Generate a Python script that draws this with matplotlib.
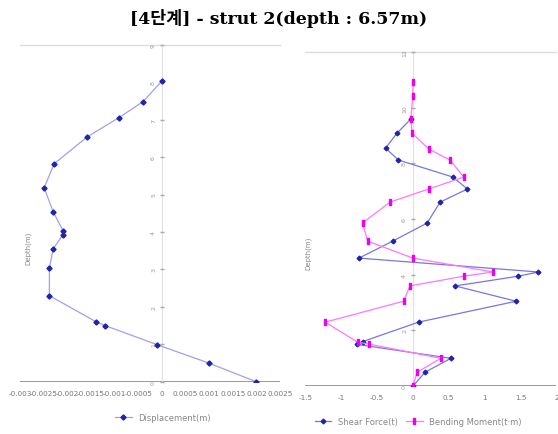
import numpy as np
import matplotlib.pyplot as plt
from matplotlib.path import Path

plt.rcParams['font.family'] = ['DejaVu Sans', 'Noto Sans CJK KR']

title = "[4단계] - strut 2(depth : 6.57m)"

# 변위 (left)
disp_depth = [8.03, 7.48, 7.05, 6.54, 5.82, 5.18, 4.54, 4.03, 3.93, 3.55, 3.04, 2.3, 1.6, 1.5, 0.99, 0.5, 0.0]
disp = [0.0, -0.0004, -0.00091, -0.00158, -0.00228, -0.00249, -0.0023, -0.00209, -0.00209,
        -0.0023, -0.00238, -0.00238, -0.00139, -0.0012, -0.0001, 0.00099, 0.002]

# 전단력 / 모멘트 (right)
sf_depth = [9.59, 9.09, 8.55, 8.12, 7.51, 7.08, 6.61, 5.86, 5.21, 4.6, 4.1, 3.95, 3.6, 3.05, 2.3, 1.6, 1.5, 1.0, 0.5, 0.0]
shear = [-0.03, -0.22, -0.38, -0.2, 0.56, 0.76, 0.38, 0.2, -0.28, -0.75, 1.75, 1.47, 0.59, 1.44, 0.08, -0.7, -0.78, 0.53, 0.17, 0.0]
bm_depth = [10.92, 10.42, 9.59, 9.09, 8.52, 8.12, 7.51, 7.08, 6.61, 5.86, 5.21, 4.6, 4.1, 3.95, 3.6, 3.05, 2.3, 1.58, 1.51, 1.0, 0.5, 0.0]
moment = [0.0, 0.0, -0.03, -0.01, 0.22, 0.52, 0.71, 0.22, -0.32, -0.7, -0.63, 0.0, 1.12, 0.71, -0.04, -0.13, -1.22, -0.77, -0.61, 0.39, 0.06, 0.0]

left_xticks = [-0.003, -0.0025, -0.002, -0.0015, -0.001, -0.0005, 0, 0.0005, 0.001, 0.0015, 0.002, 0.0025]
left_xlabels = ["-0.003", "-0.0025", "-0.002", "-0.0015", "-0.001", "-0.0005", "0", "0.0005", "0.001", "0.0015", "0.002", "0.0025"]
left_yticks = list(range(0, 10))
right_xticks = [-1.5, -1, -0.5, 0, 0.5, 1, 1.5, 2]
right_xlabels = ["-1.5", "-1", "-0.5", "0", "0.5", "1", "1.5", "2"]
right_yticks = [0, 2, 4, 6, 8, 10, 12]

bar = Path([(-0.4, -1), (0.4, -1), (0.4, 1), (-0.4, 1), (-0.4, -1)],
           [Path.MOVETO, Path.LINETO, Path.LINETO, Path.LINETO, Path.CLOSEPOLY])

fig = plt.figure(figsize=(5.58, 4.35), dpi=100)
fig.text(0.5, 0.958, title, ha='center', va='center', fontsize=12.5, weight='bold',
         family=['DejaVu Serif', 'Noto Sans CJK KR'])

def style_axes(ax, xmin, xmax, ymax, yticks, xticks, xlabels, ylabel_x):
    ax.set_xlim(xmin, xmax)
    ax.set_ylim(0, ymax)
    for s in ax.spines.values():
        s.set_visible(False)
    ax.axhline(0, color='#888888', lw=1.2, zorder=1)
    ax.axhline(ymax, color='#dddddd', lw=1.0, zorder=1, clip_on=False)
    ax.axvline(0, color='#e0e0e0', lw=0.8, zorder=1)
    ax.set_xticks(xticks)
    ax.set_xticklabels(xlabels, fontsize=5.2, color='#777777')
    ax.tick_params(axis='x', length=0, pad=6)
    ax.set_yticks([])
    for v in yticks:
        ax.plot([0], [v], marker='_', color='#aaaaaa', ms=3, zorder=1, clip_on=False)
        ax.annotate(str(v), (0, v), xytext=(-6, 0), textcoords='offset points',
                    rotation=90, fontsize=4.5, color='#999999', ha='center', va='center')
    ax.text(ylabel_x, 0.4, "Depth(m)", transform=ax.transAxes, rotation=90,
            fontsize=5, color='#888888', ha='center', va='center')

# left chart
ax1 = fig.add_axes([0.036, 0.12, 0.466, 0.775])
style_axes(ax1, -0.003, 0.0025, 9, left_yticks, left_xticks, left_xlabels, 0.03)
ax1.plot(disp, disp_depth, color='#a0a0ee', lw=0.9, marker='D', ms=2.6,
         mfc='#2222aa', mec='#2222aa', label='Displacement(m)', zorder=3)
leg1 = ax1.legend(loc='upper center', bbox_to_anchor=(0.55, -0.07), frameon=False,
                  fontsize=6, handlelength=2)
for t in leg1.get_texts():
    t.set_color('#888888')

# right chart
ax2 = fig.add_axes([0.547, 0.11, 0.45, 0.768])
style_axes(ax2, -1.5, 2, 12, right_yticks, right_xticks, right_xlabels, 0.01)
ax2.plot(shear, sf_depth, color='#7777dd', lw=0.9, marker='D', ms=2.4,
         mfc='#2222aa', mec='#2222aa', label='Shear Force(t)', zorder=3)
ax2.plot(moment, bm_depth, color='#ff77ff', lw=0.9, marker=bar, ms=4.5,
         mfc='#ee00ee', mec='#ee00ee', label='Bending Moment(t·m)', zorder=3)
leg2 = ax2.legend(loc='upper center', bbox_to_anchor=(0.45, -0.07), frameon=False,
                  fontsize=6, ncol=2, handlelength=2, columnspacing=1)
for t in leg2.get_texts():
    t.set_color('#888888')

fig.savefig('out.png', dpi=100)
